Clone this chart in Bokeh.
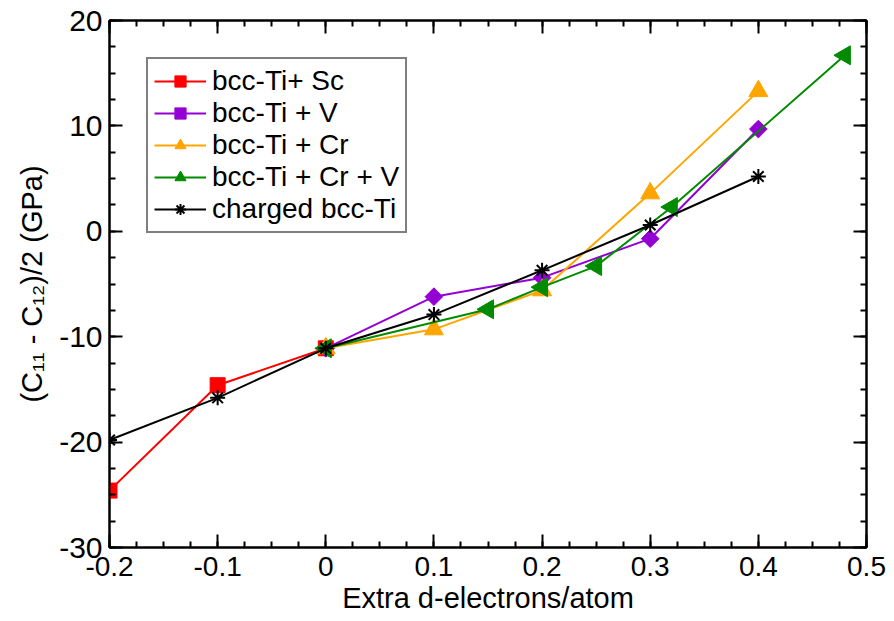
import numpy as np
from bokeh.plotting import figure
from bokeh.models import FixedTicker, LinearAxis, Range1d, Legend, LegendItem
from bokeh.embed import file_html
from bokeh.resources import INLINE

# ---- data ----
sc_x = [-0.2, -0.1, 0.0]
sc_y = [-24.6, -14.6, -11.1]

v_x = [0.0, 0.1, 0.2, 0.3, 0.4]
v_y = [-11.1, -6.2, -4.4, -0.7, 9.7]

cr_x = [0.0, 0.1, 0.2, 0.3, 0.4]
cr_y = [-11.1, -9.3, -5.6, 3.6, 13.3]

crv_x = [0.0, 0.15, 0.2, 0.25, 0.32, 0.48]
crv_y = [-11.1, -7.4, -5.3, -3.3, 2.3, 16.7]

ch_x = [-0.2, -0.1, 0.0, 0.1, 0.2, 0.3, 0.4]
ch_y = [-19.8, -15.8, -11.1, -7.9, -3.7, 0.6, 5.2]

x_ticks = [-0.2, -0.1, 0.0, 0.1, 0.2, 0.3, 0.4, 0.5]
x_tick_labels = ["-0.2", "-0.1", "0", "0.1", "0.2", "0.3", "0.4", "0.5"]
y_ticks = [-30, -20, -10, 0, 10, 20]
y_tick_labels = ["-30", "-20", "-10", "0", "10", "20"]

names = ["bcc-Ti+ Sc", "bcc-Ti + V", "bcc-Ti + Cr", "bcc-Ti + Cr + V", "charged bcc-Ti"]

FONT = "Liberation Sans"

x_minor = [round(v, 4) for v in np.arange(-0.2, 0.5001, 0.025)]
y_minor = [round(v, 4) for v in np.arange(-30, 20.001, 2.5)]

p = figure(width=894, height=621,
           x_range=Range1d(-0.2, 0.5), y_range=Range1d(-30, 20),
           output_backend="svg", toolbar_location=None,
           min_border_left=109, min_border_right=28,
           min_border_top=20, min_border_bottom=74)
p.grid.visible = False
p.outline_line_color = "black"
p.outline_line_width = 2
p.background_fill_color = "white"
p.border_fill_color = "white"

xt = FixedTicker(ticks=x_ticks, minor_ticks=x_minor)
yt = FixedTicker(ticks=y_ticks, minor_ticks=y_minor)


def style_axis(ax, ticker, labels_on, overrides):
    ax.ticker = ticker
    ax.axis_line_width = 2
    ax.axis_line_color = "black"
    ax.major_tick_in = 13
    ax.major_tick_out = 0
    ax.minor_tick_in = 6
    ax.minor_tick_out = 0
    ax.major_tick_line_width = 2
    ax.minor_tick_line_width = 2
    ax.major_tick_line_color = "black"
    ax.minor_tick_line_color = "black"
    if labels_on:
        ax.major_label_overrides = overrides
        ax.major_label_text_font = FONT
        ax.major_label_text_color = "black"
    else:
        ax.major_label_text_color = None
        ax.major_label_text_font_size = "8px"
        ax.major_label_standoff = 0
        ax.axis_label = None


xo = {float(t): s for t, s in zip(x_ticks, x_tick_labels)}
yo = {float(t): s for t, s in zip(y_ticks, y_tick_labels)}

bx = p.xaxis[0]
style_axis(bx, xt, True, xo)
bx.major_label_text_font_size = "28px"
bx.major_label_standoff = 9
bx.axis_label = "Extra d-electrons/atom"
bx.axis_label_text_font = FONT
bx.axis_label_text_color = "black"
bx.axis_label_text_font_size = "29px"
bx.axis_label_text_font_style = "normal"
bx.axis_label_standoff = 3

ly = p.yaxis[0]
style_axis(ly, yt, True, yo)
ly.major_label_text_font_size = "30px"
ly.major_label_standoff = 7
ly.axis_label = "(C\u2081\u2081 - C\u2081\u2082)/2 (GPa)"
ly.axis_label_text_font = FONT
ly.axis_label_text_color = "black"
ly.axis_label_text_font_size = "29px"
ly.axis_label_text_font_style = "normal"
ly.axis_label_standoff = 8

top = LinearAxis()
style_axis(top, xt, False, None)
p.add_layout(top, "above")
right = LinearAxis()
style_axis(right, yt, False, None)
p.add_layout(right, "right")

LW = 2
r_sc_l = p.line(sc_x, sc_y, line_color="#ff0000", line_width=LW)
r_sc_m = p.scatter(sc_x, sc_y, marker="square", size=15, fill_color="#ff0000", line_color="#ff0000")

r_v_l = p.line(v_x, v_y, line_color="#9400d3", line_width=LW)
r_v_m = p.scatter(v_x, v_y, marker="square", angle=np.pi / 4, size=12.5,
                  fill_color="#9400d3", line_color="#9400d3")

r_cr_l = p.line(cr_x, cr_y, line_color="#ffa500", line_width=LW)
r_cr_m = p.scatter(cr_x, cr_y, marker="triangle", size=19, fill_color="#ffa500", line_color="#ffa500")

r_crv_l = p.line(crv_x, crv_y, line_color="#008b00", line_width=LW)
r_crv_m = p.scatter(crv_x, crv_y, marker="triangle", angle=np.pi / 2, size=19,
                    fill_color="#008b00", line_color="#008b00")

r_ch_l = p.line(ch_x, ch_y, line_color="black", line_width=LW)
r_ch_m = p.scatter(ch_x, ch_y, marker="asterisk", size=15, line_color="black", line_width=2)

items = [
    LegendItem(label=names[0], renderers=[r_sc_l, r_sc_m]),
    LegendItem(label=names[1], renderers=[r_v_l, r_v_m]),
    LegendItem(label=names[2], renderers=[r_cr_l, r_cr_m]),
    LegendItem(label=names[3], renderers=[r_crv_l, r_crv_m]),
    LegendItem(label=names[4], renderers=[r_ch_l, r_ch_m]),
]
legend = Legend(items=items, location="top_left", margin=37, padding=6, spacing=0,
                glyph_width=52, glyph_height=28, label_height=28, label_standoff=6,
                label_text_font=FONT, label_text_font_size="28px",
                label_text_color="black",
                border_line_color="black", border_line_width=2,
                background_fill_color="white", background_fill_alpha=1.0)
p.add_layout(legend)

open("out.html", "w").write(file_html(p, INLINE))
